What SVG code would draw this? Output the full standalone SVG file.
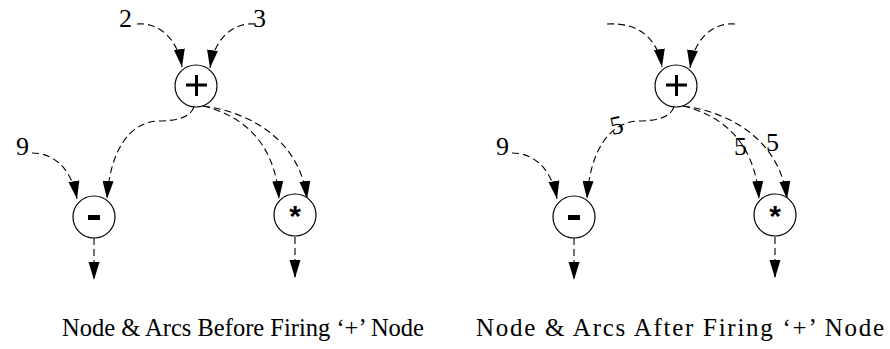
<svg xmlns="http://www.w3.org/2000/svg" width="890" height="349" viewBox="0 0 890 349">
<style>
.bg{fill:#fff}
.node{fill:#fff;stroke:#000;stroke-width:1.2}
.arc{fill:none;stroke:#000;stroke-width:1.1;stroke-dasharray:7 4;marker-end:url(#ah)}
.plus{fill:none;stroke:#000;stroke-width:3}
.op{font-family:"Liberation Sans",Arial,sans-serif;font-weight:bold;text-anchor:middle;fill:#000}
.lbl{font-family:"Liberation Serif","Times New Roman",serif;font-size:26px;fill:#000}
.cap{font-family:"Liberation Serif","Times New Roman",serif;font-size:25px;fill:#000}
</style>
<defs>
<marker id="ah" markerUnits="userSpaceOnUse" markerWidth="19" markerHeight="12" refX="18" refY="5.5" orient="auto">
<path d="M0,0 L18,5.5 L0,11 z" fill="#000"/>
</marker>
</defs>
<rect class="bg" x="0" y="0" width="890" height="349"/>

<g id="before">
<g id="connectors-before">
<path class="arc" d="M137,24 C160,22 178,40 182,67"/>
<path class="arc" d="M255,24 C232,22 214,40 210,68"/>
<path class="arc" d="M32,153 C55,153 72,170 77,199"/>
<path class="arc" d="M194,107 C190,118 175,121 158,121 C130,122 110,150 107,199"/>
<path class="arc" d="M203,106 C240,115 275,140 279,199"/>
<path class="arc" d="M203,106 C250,112 300,140 307,199"/>
<path class="arc" d="M94,238 L94,280"/>
<path class="arc" d="M295,237 L295,278"/>
</g>
<g id="plus-before"><circle class="node" cx="196" cy="86" r="21"/><path class="plus" d="M186,85 H207 M196.5,75 V96"/></g>
<g id="minus-before"><circle class="node" cx="94" cy="217" r="21"/><rect x="88" y="215" width="12" height="5" fill="#000"/></g>
<g id="times-before"><circle class="node" cx="295" cy="215" r="21"/><text class="op" x="295" y="226" font-size="30">*</text></g>
<text class="lbl" x="119" y="27">2</text>
<text class="lbl" x="253" y="27">3</text>
<text class="lbl" x="16" y="155">9</text>
<text class="cap" x="62" y="336" textLength="362" lengthAdjust="spacingAndGlyphs">Node &amp; Arcs Before Firing ‘+’ Node</text>
</g>

<g id="after">
<g id="connectors-after">
<path class="arc" d="M607,24 C640,22 658,40 662,67"/>
<path class="arc" d="M735,24 C712,22 694,40 690,68"/>
<path class="arc" d="M512,153 C535,153 552,170 557,199"/>
<path class="arc" d="M674,107 C670,118 655,121 638,121 C610,122 590,150 587,199"/>
<path class="arc" d="M683,106 C720,115 755,140 759,199"/>
<path class="arc" d="M683,106 C730,112 780,140 787,199"/>
<path class="arc" d="M574,238 L574,280"/>
<path class="arc" d="M775,237 L775,278"/>
</g>
<g id="plus-after"><circle class="node" cx="676" cy="86" r="21"/><path class="plus" d="M666,85 H687 M676.5,75 V96"/></g>
<g id="minus-after"><circle class="node" cx="574" cy="217" r="21"/><rect x="568" y="215" width="12" height="5" fill="#000"/></g>
<g id="times-after"><circle class="node" cx="775" cy="215" r="21"/><text class="op" x="775" y="226" font-size="30">*</text></g>
<text class="lbl" x="496" y="155">9</text>
<text class="lbl" transform="translate(612,135) rotate(-12)">5</text>
<text class="lbl" x="734" y="155">5</text>
<text class="lbl" x="766" y="151">5</text>
<text class="cap" x="476" y="336" font-size="26" textLength="408" lengthAdjust="spacing">Node &amp; Arcs After Firing ‘+’ Node</text>
</g>
</svg>
